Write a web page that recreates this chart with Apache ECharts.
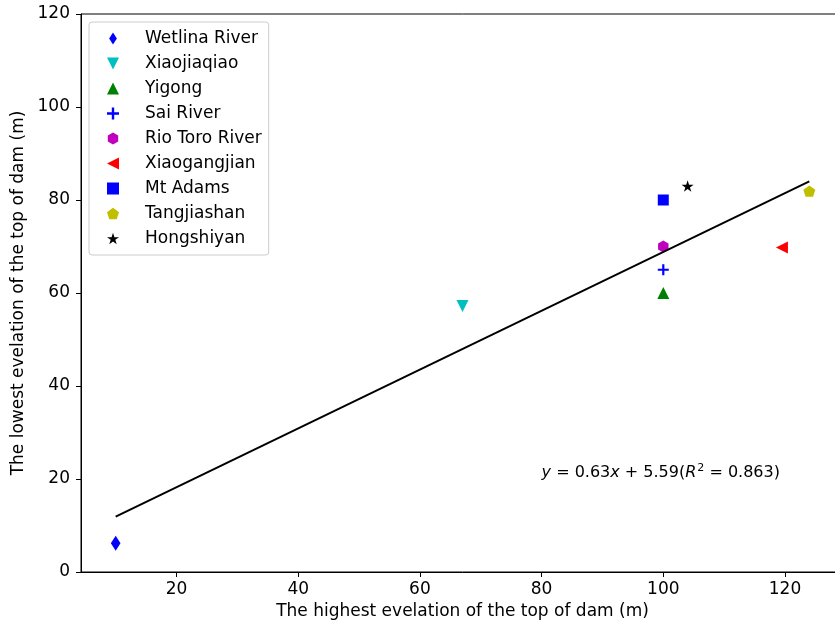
<!DOCTYPE html>
<html>
<head>
<meta charset="utf-8">
<script src="https://cdn.jsdelivr.net/npm/echarts@6/dist/echarts.min.js"></script>
<style>
html,body{margin:0;padding:0;background:#fff;overflow:hidden;width:835px;height:627px;}
#chart{width:844px;height:627px;}
</style>
</head>
<body>
<div id="chart"></div>
<script>
// ---- data ----
const siteNames = ["Wetlina River","Xiaojiaqiao","Yigong","Sai River","Rio Toro River","Xiaogangjian","Mt Adams","Tangjiashan","Hongshiyan"];
const highestElev = [10, 67, 100, 100, 100, 119.5, 100, 124, 104];
const lowestElev  = [6.2, 57.2, 60, 65, 70, 69.8, 80, 81.9, 83];
const fitX = [10, 124];
const fitY = [11.9, 84.0];
const xTicks = [20, 40, 60, 80, 100, 120];
const yTicks = [0, 20, 40, 60, 80, 100, 120];

// ---- styles ----
const colors = ["#0000ff","#00bfbf","#008000","#0000ff","#bf00bf","#ff0000","#0000ff","#bfbf00","#000000"];
const symbols = [
  "path://M45,0L90,70L45,140L0,70Z",
  "path://M0,0L100,0L50,100Z",
  "triangle",
  "path://M40,0H60V40H100V60H60V100H40V60H0V40H40Z",
  "path://M86.6,0L173.2,50L173.2,150L86.6,200L0,150L0,50Z",
  "path://M0,50L100,0L100,100Z",
  "rect",
  "path://M100,0L195.1,69.1L158.8,180.9L41.2,180.9L4.9,69.1Z",
  "path://M100,0L122.45,69.1L195.1,69.1L136.3,111.8L158.8,180.9L100,138.2L41.2,180.9L63.7,111.8L4.9,69.1L77.55,69.1Z"
];
const sizes = [15, 12, 12, 11, 12, 12, 11, 12, 12];

const FONT = "DejaVu Sans";
const FS = 17;
const series = siteNames.map((n, i) => ({
  name: n,
  type: "scatter",
  data: [[highestElev[i], lowestElev[i]]],
  symbol: symbols[i],
  symbolSize: sizes[i],
  symbolKeepAspect: true,
  itemStyle: { color: colors[i], opacity: 1 },
  z: 2
}));
series.push({
  name: "fit",
  type: "line",
  data: fitX.map((x, i) => [x, fitY[i]]),
  symbol: "none",
  lineStyle: { color: "#000", width: 2 },
  z: 3,
  silent: true,
  markPoint: {
    symbol: "circle",
    symbolSize: 0,
    data: [{ coord: [80, 21.4] }],
    label: {
      show: true,
      position: "right",
      distance: 0,
      fontFamily: FONT,
      fontSize: 16,
      color: "#000",
      formatter: "{i|y} = 0.63{i|x} + 5.59({i|R}{s|2} = 0.863)",
      rich: {
        i: { fontFamily: FONT, fontStyle: "italic", fontSize: 16, color: "#000" },
        s: { fontFamily: FONT, fontSize: 11, color: "#000", verticalAlign: "top", padding: [0, 0, 8, 1] }
      }
    }
  }
});

const chart = echarts.init(document.getElementById("chart"), null, { renderer: "canvas", width: 844, height: 627 });
chart.setOption({
  animation: false,
  backgroundColor: "#fff",
  grid: {
    left: 81, top: 14, right: 0, bottom: 55,
    show: true, borderColor: "#000", borderWidth: 1, backgroundColor: "transparent"
  },
  legend: {
    orient: "vertical",
    left: 89, top: 22,
    data: siteNames,
    itemWidth: 12, itemHeight: 12, itemGap: 8,
    padding: [8, 7, 8, 18],
    backgroundColor: "#fff",
    borderColor: "#cccccc", borderWidth: 1, borderRadius: 3,
    textStyle: { fontFamily: FONT, fontSize: FS, lineHeight: 17, color: "#000", padding: [0, 0, 0, 21] }
  },
  xAxis: {
    type: "value",
    min: 4.3, max: 129.7,
    name: "The highest evelation of the top of dam (m)",
    nameLocation: "middle", nameGap: 31,
    nameTextStyle: { fontFamily: FONT, fontSize: FS, color: "#000" },
    axisLine: { show: true, onZero: false, lineStyle: { color: "#000", width: 1 } },
    axisTick: { show: true, length: 5, lineStyle: { color: "#000" }, customValues: xTicks },
    axisLabel: { fontFamily: FONT, fontSize: FS, color: "#000", margin: 9, customValues: xTicks },
    splitLine: { show: false }
  },
  yAxis: {
    type: "value",
    min: 0, max: 120, interval: 20,
    name: "The lowest evelation of the top of dam (m)",
    nameLocation: "middle", nameGap: 52,
    nameTextStyle: { fontFamily: FONT, fontSize: FS, color: "#000" },
    axisLine: { show: true, onZero: false, lineStyle: { color: "#000", width: 1 } },
    axisTick: { show: true, length: 5, lineStyle: { color: "#000" }, customValues: yTicks },
    axisLabel: { fontFamily: FONT, fontSize: FS, color: "#000", margin: 11, customValues: yTicks },
    splitLine: { show: false }
  },
  series: series
});
</script>
</body>
</html>
